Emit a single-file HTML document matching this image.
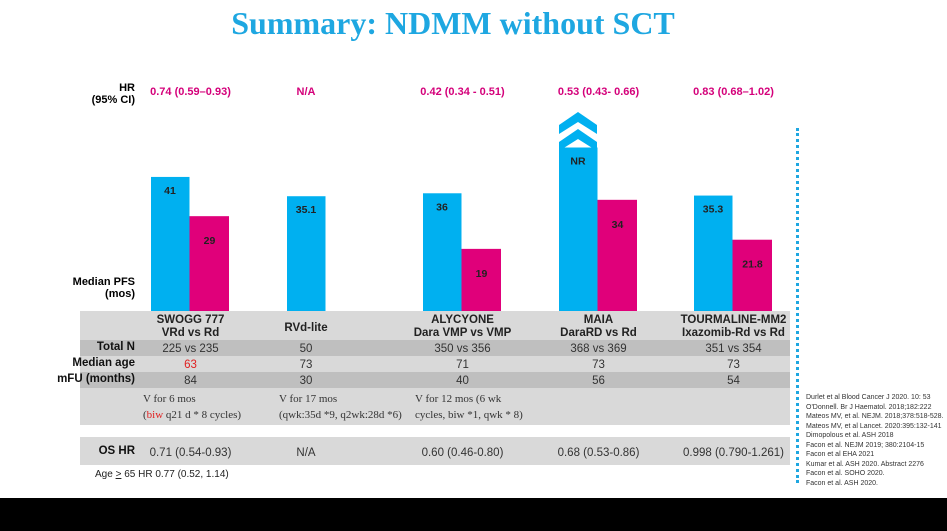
<!DOCTYPE html>
<html><head><meta charset="utf-8"><style>
body{margin:0;width:947px;height:531px;overflow:hidden;background:#fff;font-family:"Liberation Sans",sans-serif;position:relative}
.a{position:absolute}
.b{font-weight:bold}
.row{position:absolute;left:80px;width:710px}
.lab{position:absolute;right:812px;font-size:11.5px;font-weight:bold;color:#111;text-align:right;white-space:nowrap}
.ref{font-size:7px;color:#333;line-height:9.5px}
</style></head><body>
<div class="a" style="left:0;width:906px;top:5px;text-align:center;font:bold 32px 'Liberation Serif',serif;color:#1ea7e1">Summary: NDMM without SCT</div>
<div class="a b" style="right:812px;top:82px;font-size:11px;text-align:right;line-height:12px">HR<br>(95% CI)</div>
<div class="a b" style="right:812px;top:276px;font-size:11px;text-align:right;line-height:12px">Median PFS<br>(mos)</div>
<div class="row" style="top:311px;height:29px;background:#d9d9d9"></div>
<div class="row" style="top:340px;height:16px;background:#bfbfbf"></div>
<div class="row" style="top:356px;height:16px;background:#d9d9d9"></div>
<div class="row" style="top:372px;height:16px;background:#bfbfbf"></div>
<div class="row" style="top:388px;height:37px;background:#d9d9d9"></div>
<div class="row" style="top:437px;height:28px;background:#d9d9d9"></div>
<div class="lab" style="top:341px">Total N</div>
<div class="lab" style="top:357px">Median age</div>
<div class="lab" style="top:373px">mFU (months)</div>
<div class="lab" style="top:445px">OS HR</div>
<div class="a" style="left:95px;top:469px;font-size:10px;color:#222">Age <u>&gt;</u> 65 HR 0.77 (0.52, 1.14)</div>
<svg class="a" style="left:0;top:0" width="947" height="531" id="chart"></svg>
<div class="a" style="left:796px;top:128px;height:355px;border-left:3px dotted #1ea7e1"></div>
<div class="a ref" style="left:806px;top:393px">Durlet et al Blood Cancer J 2020. 10: 53<br>O'Donnell. Br J Haematol. 2018;182:222<br>Mateos MV, et al. NEJM. 2018;378:518-528.<br>Mateos MV, et al Lancet. 2020:395:132-141<br>Dimopolous et al. ASH 2018<br>Facon et al. NEJM 2019; 380:2104-15<br>Facon et al EHA 2021<br>Kumar et al. ASH 2020. Abstract 2276<br>Facon et al. SOHO 2020.<br>Facon et al. ASH 2020.</div>
<div class="a" style="left:0;top:498px;width:947px;height:33px;background:#000"></div>
<script>
const trials=["SWOGG 777|VRd vs Rd","RVd-lite","ALYCYONE|Dara VMP vs VMP","MAIA|DaraRD vs Rd","TOURMALINE-MM2|Ixazomib-Rd vs Rd"];
const hrText=["0.74  (0.59–0.93)","N/A","0.42 (0.34 - 0.51)","0.53 (0.43- 0.66)","0.83 (0.68–1.02)"];
const blueVals=[41,35.1,36,50,35.3];
const blueLabels=["41","35.1","36","NR","35.3"];
const magVals=[29,null,19,34,21.8];
const totalN=["225 vs 235","50","350 vs 356","368 vs 369","351 vs 354"];
const medAge=["63","73","71","73","73"];
const mfu=["84","30","40","56","54"];
const osHr=["0.71 (0.54-0.93)","N/A","0.60 (0.46-0.80)","0.68 (0.53-0.86)","0.998 (0.790-1.261)"];
const notes=[["V for 6 mos","(<tspan fill='#e02020'>biw</tspan> q21 d * 8 cycles)"],["V for 17 mos","(qwk:35d *9, q2wk:28d *6)"],["V for 12 mos (6 wk","cycles, biw *1, qwk * 8)"],[],[]];
const groupX=[151,287,423,559,694];
const base=311,k=3.27,bw=38.5;
const y=v=>base-v*k;
const svg=document.getElementById('chart');
const NS='http://www.w3.org/2000/svg';
function add(tag,attrs,txt){const e=document.createElementNS(NS,tag);for(const a in attrs)e.setAttribute(a,attrs[a]);if(txt!=null)e.innerHTML=txt;svg.appendChild(e);return e;}
trials.forEach((tr,i)=>{
 const x0=groupX[i];
 const b=add('rect',{x:x0,y:y(blueVals[i]),width:bw,height:blueVals[i]*k,fill:'#00b0f0'});
 
 
 add('text',{x:x0+19,y:y(blueVals[i])+17,'text-anchor':'middle','font-size':10.5,'font-weight':'bold',fill:'#222'},blueLabels[i]);
 if(magVals[i]!=null){
  const m=add('rect',{x:x0+bw,y:y(magVals[i]),width:bw+1,height:magVals[i]*k,fill:'#e0007a'});
  
  
  add('text',{x:x0+bw+20,y:y(magVals[i])+28,'text-anchor':'middle','font-size':10.5,'font-weight':'bold',fill:'#222'},String(magVals[i]));
 }
 const cx=(i==1)?x0+19:x0+bw+1;
 const h=add('text',{x:cx,y:95,'text-anchor':'middle','font-size':11,'font-weight':'bold',fill:'#d4007a'},hrText[i]);
 
 
 const lines=tr.split('|');
 lines.forEach((l,j)=>add('text',{x:cx,y:(lines.length==1?331:323)+j*13,'text-anchor':'middle','font-size':11.5,'font-weight':'bold',fill:'#222'},l));
 add('text',{x:cx,y:352,'text-anchor':'middle','font-size':11.5,fill:'#333'},totalN[i]);
 add('text',{x:cx,y:368,'text-anchor':'middle','font-size':11.5,fill:i==0?'#e02020':'#333'},medAge[i]);
 add('text',{x:cx,y:384,'text-anchor':'middle','font-size':11.5,fill:'#333'},mfu[i]);
 notes[i].forEach((l,j)=>add('text',{x:x0-8,y:402+j*16,'font-size':11,'font-family':'Liberation Serif,serif',fill:'#333'},l));
 add('text',{x:cx,y:456,'text-anchor':'middle','font-size':11.5,fill:'#333'},osHr[i]);
});
const ax=groupX[3];
[119,136].forEach(t=>{const p=add('polygon',{points:`${ax},${t+6} ${ax+19},${t-7} ${ax+38},${t+6} ${ax+38},${t+15} ${ax+19},${t+3} ${ax},${t+15}`,fill:'#00b0f0'});

});
</script>
</body></html>
